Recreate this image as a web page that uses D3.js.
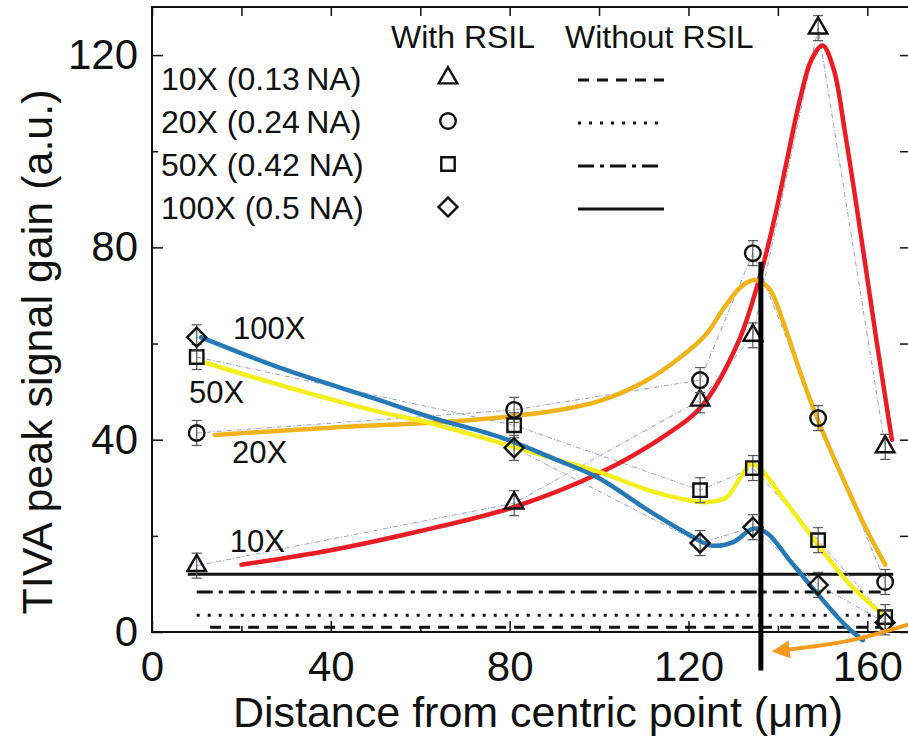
<!DOCTYPE html>
<html>
<head>
<meta charset="utf-8">
<script src="https://cdn.jsdelivr.net/npm/d3@7"></script>
<style>
    body { margin: 0; background: #fff; }
    svg text { font-family: "Liberation Sans", Arial, sans-serif; fill: #111; }
</style>
</head>
<body>
<div id="chart"></div>
<script>
// measured points (distance in um, gain in a.u.)
var distances = [10, 81, 122.6, 134.4, 149, 164];
var gain10X = [13.8, 26.8, 48.2, 61.7, 125.6, 38.5];
var gain20X = [41.4, 46.2, 52.4, 78.8, 44.5, 10.4];
var gain50X = [57.2, 43, 29.5, 34.1, 19.1, 3.1];
var gain100X = [61.3, 38.3, 18.5, 21.8, 9.8, 2];
var errBar = [2.6, 2.6, 2.6, 2.6, 2.6, 2.6];

// hand drawn trend curves [distance, gain]
var curve10X = [[20, 14], [40, 17], [60, 21], [81, 26], [100, 33], [115, 41], [123, 47], [131, 60],
    [136, 74], [139, 85], [142, 98], [145, 111], [147.5, 119], [150, 122], [152.5, 117], [155, 104],
    [158.5, 83], [162, 61], [165.5, 40]];
var curve20X = [[14, 41], [40, 42.5], [70, 44], [90, 46], [100, 48], [110, 52], [118, 57], [124, 62], [128, 67.5],
    [132, 72], [135, 73.2], [138, 71.5], [141, 65], [145, 54], [149, 44], [155, 31], [160, 21], [164, 14]];
var curve50X = [[12, 56], [30, 51], [50, 46], [62, 43.5], [78, 39.3], [90, 36], [100, 33.3], [111, 29.5], [118, 27.8],
    [124, 27], [128.5, 28], [131.5, 32], [134, 35], [136.5, 33.5], [141, 28], [148.7, 18.5], [156, 10], [163, 4]];
var curve100X = [[11, 61.3], [30, 54.5], [50, 48.5], [63, 44.5], [78, 40.5], [90, 36], [100, 32], [111, 25.3],
    [121, 19.8], [125, 18], [130, 18.7], [134.5, 21.5], [137.5, 20.6], [143, 14.5], [148.7, 8.1], [155, 1.5], [159, -1.7]];

// "Without RSIL" levels
var baseLevels = [1, 3.5, 8.3, 12];     // 10X, 20X, 50X, 100X
var baseFrom = [13, 10, 10, 8];
var baseTo = [163, 164, 163, 165.8];

var seriesNames = ["10X", "20X", "50X", "100X"];
var legendLabels = ["10X (0.13\u2009NA)", "20X (0.24\u2009NA)", "50X (0.42 NA)", "100X (0.5 NA)"];
var seriesLabelPos = [[17.4, 16.6], [17.9, 35.1], [8.3, 47.6], [18.1, 60.9]];

var xTicks = [0, 40, 80, 120, 160];
var xMinor = [20, 60, 100, 140];
var yTicks = [0, 40, 80, 120];
var yMinor = [20, 60, 100];

// annotation: vertical marker line and orange arrow
var markLine = [[136.2, 77], [136.2, -8]];
var arrowPts = [[170, 1.8], [156, -1.8], [141.8, -3.7]];

function init() {
    var w = 908, h = 739;
    var svg = d3.select("#chart").append("svg")
        .attr("width", w)
        .attr("height", h);

    var x = d3.scaleLinear().domain([0, 170]).range([152, 912]);
    var y = d3.scaleLinear().domain([0, 130]).range([632, 7]);

    var curveColors = ["#ec1c24", "#f0b41a", "#f4ef1c", "#2579b6"];
    var dashes = ["11,8", "3,8", "16,6,4,6", null];
    var symbols = [d3.symbolTriangle, d3.symbolCircle, d3.symbolSquare, d3.symbolSquare];
    var symSize = [150, 190, 180, 180];
    var symRot = [0, 0, 0, 45];
    var gains = [gain10X, gain20X, gain50X, gain100X];
    var curves = [curve10X, curve20X, curve50X, curve100X];

    // frame
    svg.append("rect")
        .attr("x", x(0)).attr("y", y(130))
        .attr("width", x(170) - x(0)).attr("height", y(0) - y(130))
        .attr("fill", "none").attr("stroke", "#111").attr("stroke-width", 2);

    // axes with inward ticks
    function styleAxis(g) {
        g.select(".domain").remove();
        g.selectAll("line").attr("stroke", "#111").attr("stroke-width", 1.5);
        g.selectAll("text").style("font-size", "42px").attr("fill", "#111");
    }
    svg.append("g").attr("transform", "translate(0," + y(0) + ")")
        .call(d3.axisBottom(x).tickValues(xTicks).tickSize(-11).tickPadding(19).tickSizeOuter(0))
        .call(styleAxis);
    svg.append("g").attr("transform", "translate(0," + y(0) + ")")
        .call(d3.axisBottom(x).tickValues(xMinor).tickSize(-6).tickFormat("").tickSizeOuter(0))
        .call(styleAxis);
    svg.append("g").attr("transform", "translate(0," + y(130) + ")")
        .call(d3.axisTop(x).tickValues(xTicks.concat(xMinor)).tickSize(-9).tickFormat("").tickSizeOuter(0))
        .call(styleAxis);
    svg.append("g").attr("transform", "translate(" + x(0) + ",0)")
        .call(d3.axisLeft(y).tickValues(yTicks).tickSize(-11).tickPadding(14).tickSizeOuter(0))
        .call(styleAxis);
    svg.append("g").attr("transform", "translate(" + x(0) + ",0)")
        .call(d3.axisLeft(y).tickValues(yMinor).tickSize(-6).tickFormat("").tickSizeOuter(0))
        .call(styleAxis);
    svg.append("g").attr("transform", "translate(" + x(170) + ",0)")
        .call(d3.axisRight(y).tickValues(yTicks.concat(yMinor)).tickSize(-12).tickFormat("").tickSizeOuter(0))
        .call(styleAxis);

    // axis titles
    svg.append("text")
        .attr("x", 538).attr("y", 727)
        .attr("text-anchor", "middle")
        .style("font-size", "43px")
        .text("Distance from centric point (\u03bcm)");
    svg.append("text")
        .attr("transform", "translate(52,352) rotate(-90)")
        .attr("text-anchor", "middle")
        .style("font-size", "43px")
        .text("TIVA peak signal gain (a.u.)");

    // "Without RSIL" horizontal levels
    baseLevels.forEach(function (v, i) {
        svg.append("line")
            .attr("x1", x(baseFrom[i])).attr("x2", x(baseTo[i]))
            .attr("y1", y(v)).attr("y2", y(v))
            .attr("stroke", "#111")
            .attr("stroke-width", 3)
            .attr("stroke-dasharray", dashes[i]);
    });

    // thin connectors between measured points
    var connector = d3.line().x(function (d) { return x(d[0]); }).y(function (d) { return y(d[1]); });
    gains.forEach(function (g) {
        svg.append("path")
            .attr("d", connector(distances.map(function (d, j) { return [d, g[j]]; })))
            .attr("fill", "none")
            .attr("stroke", "#9aa2bd")
            .attr("stroke-width", 1)
            .attr("stroke-dasharray", "5,2,1,2");
    });

    // smooth coloured trend curves
    var smooth = d3.line()
        .x(function (d) { return x(d[0]); })
        .y(function (d) { return y(d[1]); })
        .curve(d3.curveCatmullRom.alpha(0.5));
    curves.forEach(function (c, i) {
        svg.append("path")
            .attr("d", smooth(c))
            .attr("fill", "none")
            .attr("stroke", curveColors[i])
            .attr("stroke-width", 4.5)
            .attr("stroke-linecap", "round");
    });

    // error bars and markers
    gains.forEach(function (g, i) {
        var grp = svg.append("g");
        distances.forEach(function (d, j) {
            var cx = x(d), top = y(g[j] + errBar[j]), bot = y(g[j] - errBar[j]);
            grp.append("line").attr("x1", cx).attr("x2", cx).attr("y1", top).attr("y2", bot)
                .attr("stroke", "#555").attr("stroke-width", 1.2);
            [top, bot].forEach(function (yy) {
                grp.append("line").attr("x1", cx - 5).attr("x2", cx + 5).attr("y1", yy).attr("y2", yy)
                    .attr("stroke", "#555").attr("stroke-width", 1.2);
            });
            grp.append("path")
                .attr("d", d3.symbol().type(symbols[i]).size(symSize[i])())
                .attr("transform", "translate(" + cx + "," + y(g[j]) + ") rotate(" + symRot[i] + ")")
                .attr("fill", "none")
                .attr("stroke", "#111")
                .attr("stroke-width", 2.4);
        });
    });

    // series labels in the plot
    seriesNames.forEach(function (n, i) {
        svg.append("text")
            .attr("x", x(seriesLabelPos[i][0])).attr("y", y(seriesLabelPos[i][1]))
            .style("font-size", "31px")
            .text(n);
    });

    // legend
    svg.append("text").attr("x", 391).attr("y", 48).style("font-size", "32px").text("With RSIL");
    svg.append("text").attr("x", 565).attr("y", 48).style("font-size", "32px").text("Without RSIL");
    var rowY = [79, 122, 165, 208];
    legendLabels.forEach(function (lab, i) {
        svg.append("text")
            .attr("x", 161).attr("y", rowY[i] + 11)
            .style("font-size", "32px")
            .text(lab);
        svg.append("path")
            .attr("d", d3.symbol().type(symbols[i]).size(symSize[i])())
            .attr("transform", "translate(448," + (rowY[i] - 1) + ") rotate(" + symRot[i] + ")")
            .attr("fill", "none")
            .attr("stroke", "#111")
            .attr("stroke-width", 2.4);
        svg.append("line")
            .attr("x1", 578).attr("x2", 664)
            .attr("y1", rowY[i] + 1).attr("y2", rowY[i] + 1)
            .attr("stroke", "#111")
            .attr("stroke-width", 3)
            .attr("stroke-dasharray", dashes[i]);
    });

    // vertical black marker
    svg.append("line")
        .attr("x1", x(markLine[0][0])).attr("x2", x(markLine[1][0]))
        .attr("y1", y(markLine[0][1])).attr("y2", y(markLine[1][1]))
        .attr("stroke", "#000")
        .attr("stroke-width", 5);

    // orange arrow
    svg.append("defs").append("marker")
        .attr("id", "head")
        .attr("viewBox", "0 0 10 10")
        .attr("refX", 2).attr("refY", 5)
        .attr("markerUnits", "userSpaceOnUse")
        .attr("markerWidth", 20).attr("markerHeight", 18)
        .attr("orient", "auto")
        .append("path")
        .attr("d", "M0,0 L10,5 L0,10 Z")
        .attr("fill", "#f59a1c");
    svg.append("path")
        .attr("d", d3.line().x(function (d) { return x(d[0]); }).y(function (d) { return y(d[1]); })
            .curve(d3.curveNatural)(arrowPts))
        .attr("fill", "none")
        .attr("stroke", "#f59a1c")
        .attr("stroke-width", 4)
        .attr("marker-end", "url(#head)");
}

window.onload = init;
</script>
</body>
</html>
